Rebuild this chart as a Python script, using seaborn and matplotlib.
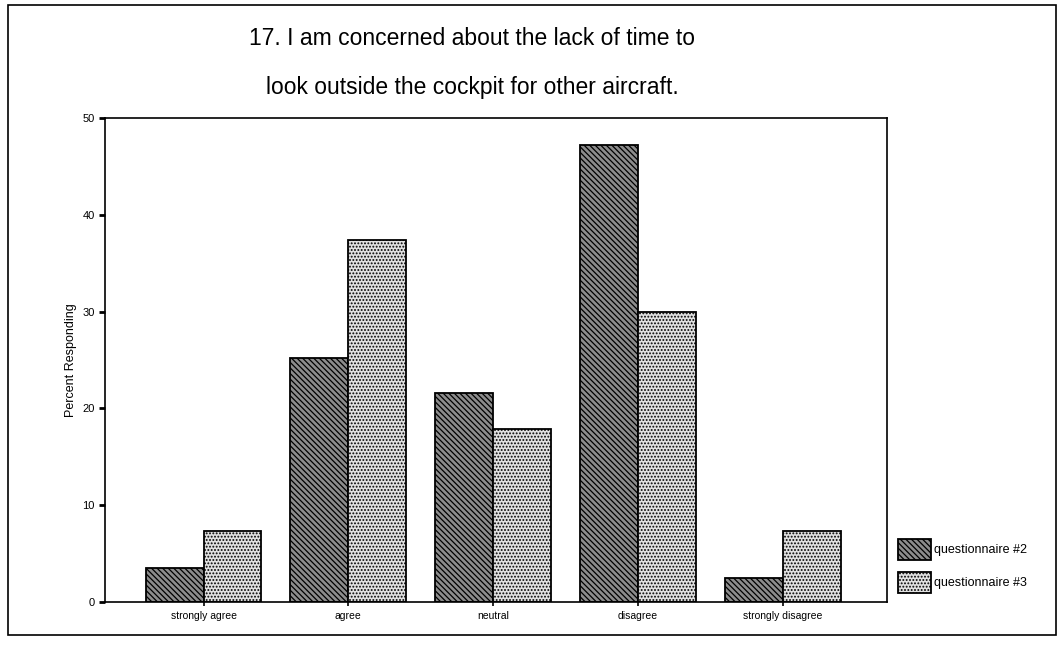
import pandas as pd
import matplotlib
matplotlib.use('Agg')
import matplotlib.pyplot as plt
import seaborn as sns
from matplotlib.patches import Patch, Rectangle

# values (percent responding)
categories = ['strongly agree', 'agree', 'neutral', 'disagree', 'strongly disagree']
q2_values = [3.5, 25.2, 21.6, 47.2, 2.5]
q3_values = [7.3, 37.4, 17.9, 30.0, 7.3]
series = ['questionnaire #2', 'questionnaire #3']
title_lines = ['17. I am concerned about the lack of time to',
               'look outside the cockpit for other aircraft.']

df = pd.DataFrame({
    'Response': categories * 2,
    'Percent': q2_values + q3_values,
    'Survey': [series[0]] * 5 + [series[1]] * 5,
})

sns.set_style('white')
plt.rcParams['font.family'] = ['Liberation Sans', 'DejaVu Sans']
plt.rcParams['text.color'] = 'black'
plt.rcParams['axes.labelcolor'] = 'black'
plt.rcParams['xtick.color'] = 'black'
plt.rcParams['ytick.color'] = 'black'
plt.rcParams['hatch.linewidth'] = 0.9

fig = plt.figure(figsize=(10.61, 6.45), dpi=100)
ax = fig.add_axes([0.099, 0.0667, 0.737, 0.750])

faces = ['#8c8c8c', '#e0e0e0']
hatches = ['\\\\\\\\\\\\', '.....']

sns.barplot(data=df, x='Response', y='Percent', hue='Survey', order=categories,
            hue_order=series, palette=faces, width=0.8, gap=0, saturation=1,
            edgecolor='black', linewidth=1.3, legend=False, ax=ax)

for i, container in enumerate(ax.containers):
    for bar in container:
        bar.set_hatch(hatches[i])

ax.set_xlim(-0.68, 4.72)
ax.set_ylim(0, 50)
ax.set_yticks([0, 10, 20, 30, 40, 50])
ax.set_yticklabels(['0', '10', '20', '30', '40', '50'], fontsize=8)
ax.tick_params(axis='x', labelsize=7.5, length=3, width=1.2, direction='out', bottom=True)
ax.tick_params(axis='y', length=4, width=2, direction='out', left=True)
ax.set_xlabel('')
ax.set_ylabel('Percent Responding', fontsize=9)
for s in ax.spines.values():
    s.set_visible(True)
    s.set_color('black')
    s.set_linewidth(1.2)

fig.text(0.445, 0.93, title_lines[0], ha='center', va='baseline', fontsize=16.5)
fig.text(0.445, 0.855, title_lines[1], ha='center', va='baseline', fontsize=16.5)

handles = [Patch(facecolor=faces[i], edgecolor='black', hatch=hatches[i], linewidth=1.3)
           for i in range(2)]
fig.legend(handles, series, loc='upper left', bbox_to_anchor=(0.846, 0.165),
           frameon=False, fontsize=9, handlelength=2.7, handleheight=2.3,
           labelspacing=0.9, handletextpad=0.2, borderaxespad=0, borderpad=0)

# outer border around the whole chart
fig.patches.append(Rectangle((0.008, 0.016), 0.987, 0.976, transform=fig.transFigure,
                             fill=False, edgecolor='black', linewidth=1.2))

fig.savefig('out.png', dpi=100)
